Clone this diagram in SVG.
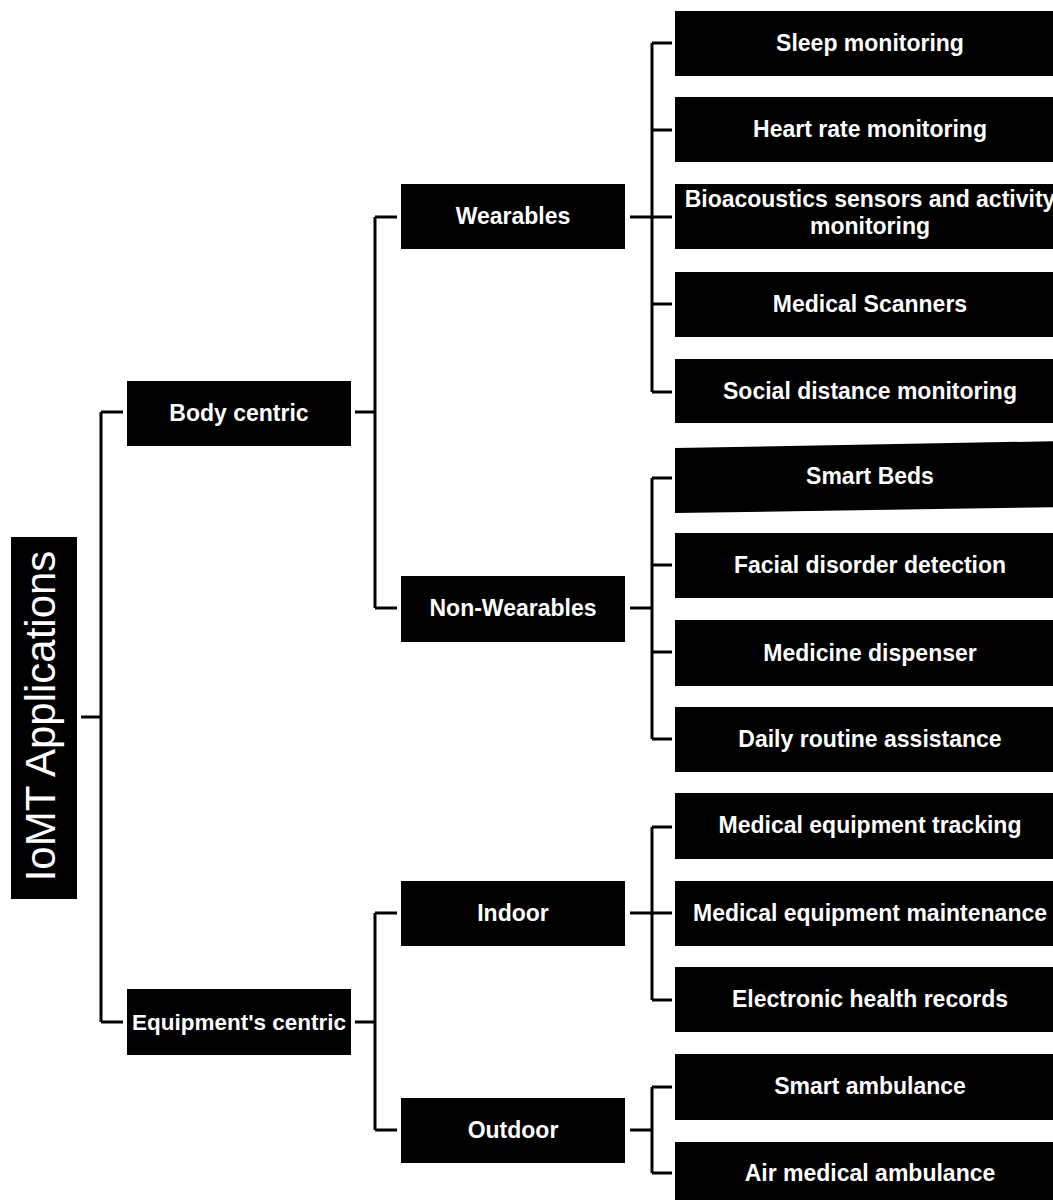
<svg xmlns="http://www.w3.org/2000/svg" width="1053" height="1200" viewBox="0 0 1053 1200">
  <style>
    .box { fill: #000; }
    .lbl { fill: #fff; font-family: "Liberation Sans", Arial, sans-serif; font-weight: bold; font-size: 23px; text-anchor: middle; }
    .root { fill: #fff; font-family: "Liberation Sans", Arial, sans-serif; font-size: 42px; text-anchor: middle; }
    .wire { fill: none; stroke: #000; stroke-width: 3; }
  </style>
  <rect width="1053" height="1200" fill="#fff"/>

  <!-- tree connectors -->
  <g id="connectors" class="wire">
    <!-- root -> level 1 -->
    <path d="M81,717 H101 M101,412 V1022 M101,412 H123 M101,1022 H123"/>
    <!-- Body centric -> Wearables / Non-Wearables -->
    <path d="M355,412 H375 M375,217 V608 M375,217 H397 M375,608 H397"/>
    <!-- Equipment's centric -> Indoor / Outdoor -->
    <path d="M355,1022 H375 M375,913 V1130 M375,913 H397 M375,1130 H397"/>
    <!-- Wearables -> leaves -->
    <path d="M630,217 H652 M652,43 V392 M652,43 H672 M652,130 H672 M652,217 H672 M652,304 H672 M652,392 H672"/>
    <!-- Non-Wearables -> leaves -->
    <path d="M630,608 H652 M652,478 V739 M652,478 H672 M652,565 H672 M652,652 H672 M652,739 H672"/>
    <!-- Indoor -> leaves -->
    <path d="M630,913 H652 M652,827 V1000 M652,827 H672 M652,913 H672 M652,1000 H672"/>
    <!-- Outdoor -> leaves -->
    <path d="M630,1130 H652 M652,1087 V1173 M652,1087 H672 M652,1173 H672"/>
  </g>

  <!-- root -->
  <g id="iomt-applications">
    <rect class="box" x="11" y="537" width="66" height="362"/>
    <text class="root" transform="translate(55,716) rotate(-90)">IoMT Applications</text>
  </g>

  <!-- level 1 -->
  <g id="body-centric">
    <rect class="box" x="127" y="381" width="224" height="65"/>
    <text class="lbl" x="239" y="421">Body centric</text>
  </g>
  <g id="equipments-centric">
    <rect class="box" x="127" y="989" width="224" height="66"/>
    <text class="lbl" x="239" y="1030" style="font-size:22.5px">Equipment's centric</text>
  </g>

  <!-- level 2 -->
  <g id="wearables">
    <rect class="box" x="401" y="184" width="224" height="65"/>
    <text class="lbl" x="513" y="224">Wearables</text>
  </g>
  <g id="non-wearables">
    <rect class="box" x="401" y="576" width="224" height="66"/>
    <text class="lbl" x="513" y="616">Non-Wearables</text>
  </g>
  <g id="indoor">
    <rect class="box" x="401" y="881" width="224" height="65"/>
    <text class="lbl" x="513" y="921">Indoor</text>
  </g>
  <g id="outdoor">
    <rect class="box" x="401" y="1098" width="224" height="65"/>
    <text class="lbl" x="513" y="1138">Outdoor</text>
  </g>

  <!-- leaves -->
  <g id="sleep-monitoring">
    <rect class="box" x="675" y="11" width="390" height="65"/>
    <text class="lbl" x="870" y="51">Sleep monitoring</text>
  </g>
  <g id="heart-rate-monitoring">
    <rect class="box" x="675" y="97" width="390" height="65"/>
    <text class="lbl" x="870" y="137">Heart rate monitoring</text>
  </g>
  <g id="bioacoustics">
    <rect class="box" x="675" y="184" width="390" height="65"/>
    <text class="lbl" x="870" y="207">Bioacoustics sensors and activity</text>
    <text class="lbl" x="870" y="234">monitoring</text>
  </g>
  <g id="medical-scanners">
    <rect class="box" x="675" y="272" width="390" height="65"/>
    <text class="lbl" x="870" y="312">Medical Scanners</text>
  </g>
  <g id="social-distance-monitoring">
    <rect class="box" x="675" y="359" width="390" height="64"/>
    <text class="lbl" x="870" y="399">Social distance monitoring</text>
  </g>
  <g id="smart-beds">
    <polygon class="box" points="675,448 1065,441 1065,507 675,513"/>
    <text class="lbl" x="870" y="484">Smart Beds</text>
  </g>
  <g id="facial-disorder-detection">
    <rect class="box" x="675" y="533" width="390" height="65"/>
    <text class="lbl" x="870" y="573">Facial disorder detection</text>
  </g>
  <g id="medicine-dispenser">
    <rect class="box" x="675" y="620" width="390" height="66"/>
    <text class="lbl" x="870" y="661">Medicine dispenser</text>
  </g>
  <g id="daily-routine-assistance">
    <rect class="box" x="675" y="707" width="390" height="65"/>
    <text class="lbl" x="870" y="747">Daily routine assistance</text>
  </g>
  <g id="medical-equipment-tracking">
    <rect class="box" x="675" y="793" width="390" height="66"/>
    <text class="lbl" x="870" y="833">Medical equipment tracking</text>
  </g>
  <g id="medical-equipment-maintenance">
    <rect class="box" x="675" y="881" width="390" height="65"/>
    <text class="lbl" x="870" y="921">Medical equipment maintenance</text>
  </g>
  <g id="electronic-health-records">
    <rect class="box" x="675" y="967" width="390" height="65"/>
    <text class="lbl" x="870" y="1007">Electronic health records</text>
  </g>
  <g id="smart-ambulance">
    <rect class="box" x="675" y="1054" width="390" height="66"/>
    <text class="lbl" x="870" y="1094">Smart ambulance</text>
  </g>
  <g id="air-medical-ambulance">
    <rect class="box" x="675" y="1142" width="390" height="66"/>
    <text class="lbl" x="870" y="1181">Air medical ambulance</text>
  </g>
</svg>
